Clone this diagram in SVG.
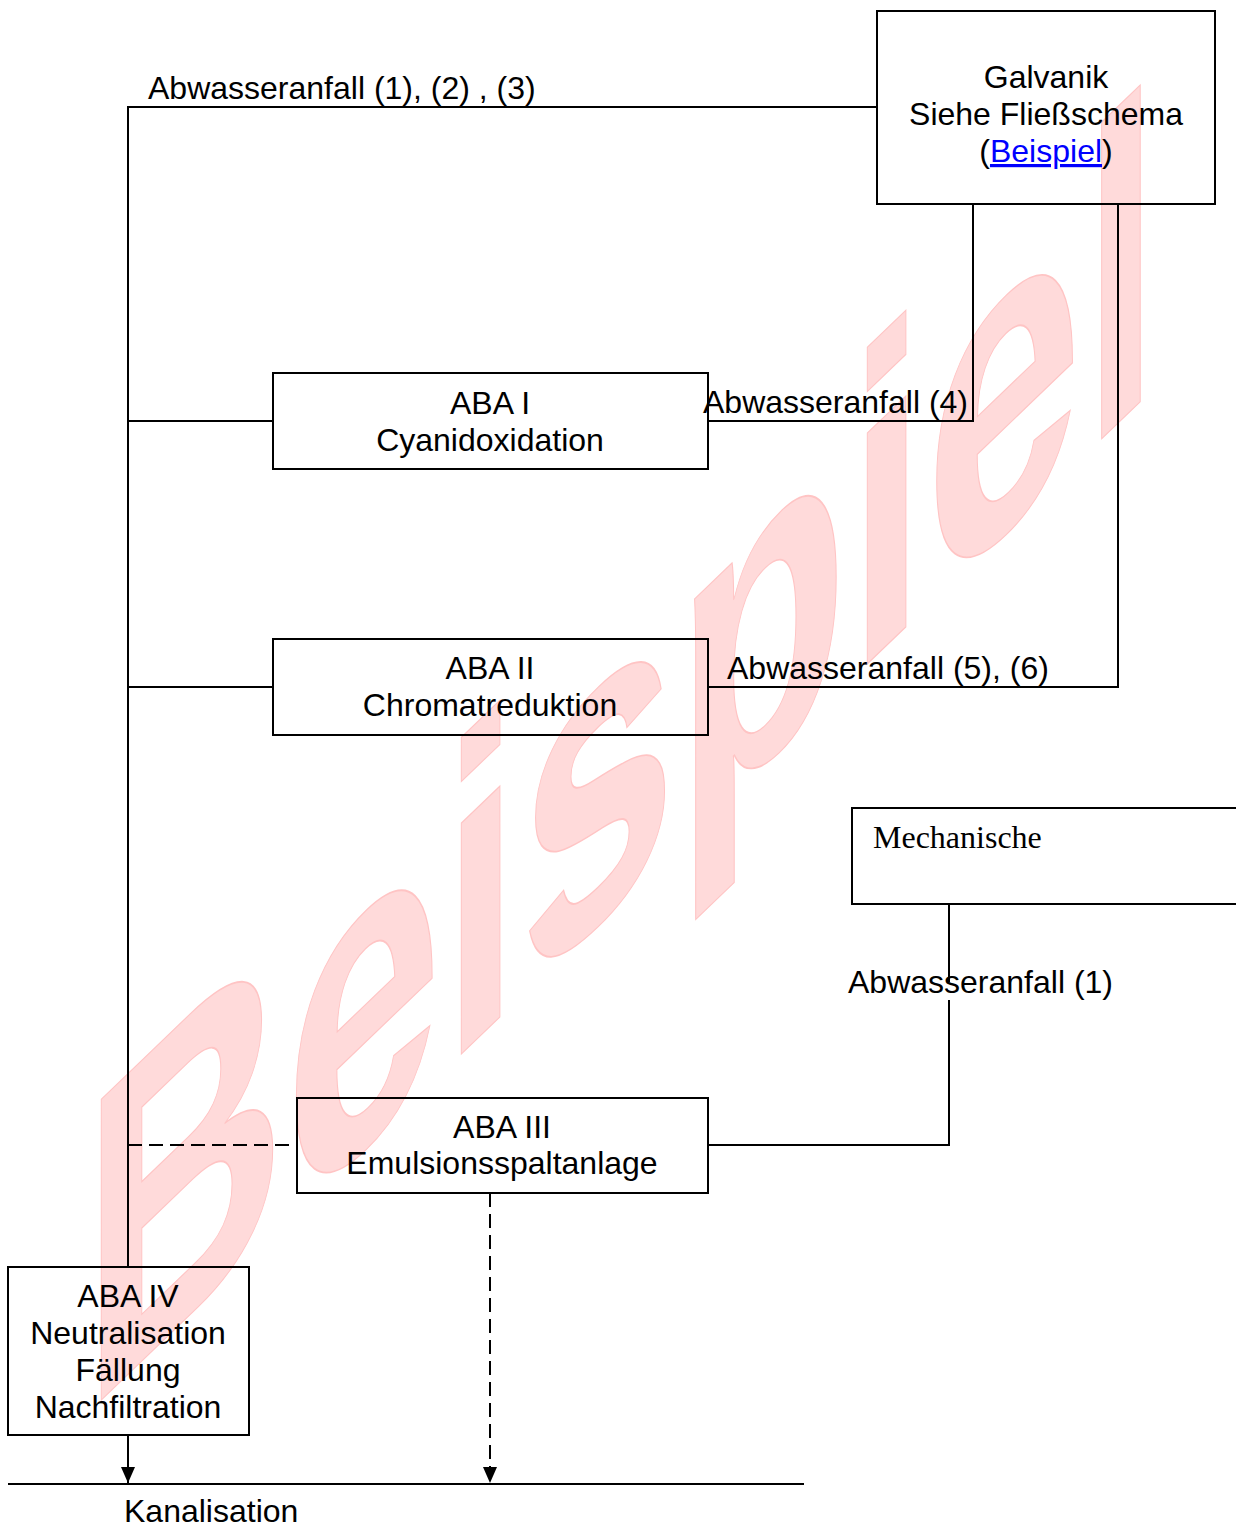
<svg xmlns="http://www.w3.org/2000/svg" width="1236" height="1526" viewBox="0 0 1236 1526">
<defs>
<style>
.t{font-family:"Liberation Sans",Arial,sans-serif;font-size:32px;fill:#000}
.c{text-anchor:middle}
.box{fill:none;stroke:#000;stroke-width:2}
.ln{fill:none;stroke:#000;stroke-width:2}
.dash{stroke-dasharray:14 7}
.wm{font-family:"Liberation Sans",Arial,sans-serif;font-weight:bold;font-size:100px;fill:#ffdada;stroke:#ffc4c4;stroke-width:1.5}
</style>
<marker id="arr" viewBox="0 0 16 14" refX="16" refY="7" markerWidth="16" markerHeight="14" markerUnits="userSpaceOnUse" orient="auto">
<path d="M0,0 L16,7 L0,14 Z" fill="#000"/>
</marker>
</defs>
<rect width="1236" height="1526" fill="#fff"/>
<text class="wm" transform="matrix(2.81 -2.70 0 4.37 82.5 1418)" vector-effect="non-scaling-stroke">Beispiel</text>

<g id="connectors">
<path class="ln" d="M877,107 H128 V1267"/>
<path class="ln" d="M128,421 H273"/>
<path class="ln" d="M128,687 H273"/>
<path class="ln dash" d="M128,1145 H297"/>
<path class="ln" d="M973,204 V421 H708"/>
<path class="ln" d="M1118,204 V687 H708"/>
<path class="ln" d="M949,904 V982"/>
<path class="ln" d="M949,1000 V1145 H708"/>
<path class="ln" d="M128,1435 V1483" marker-end="url(#arr)"/>
<path class="ln dash" d="M490,1193 V1483" marker-end="url(#arr)"/>
<path class="ln" d="M8,1484 H804"/>
<text class="t" x="148" y="99">Abwasseranfall (1), (2) , (3)</text>
<text class="t" x="703" y="413">Abwasseranfall (4)</text>
<text class="t" x="727" y="679">Abwasseranfall (5), (6)</text>
<text class="t" x="848" y="993">Abwasseranfall (1)</text>
</g>

<g id="galvanik">
<rect class="box" x="877" y="11" width="338" height="193"/>
<text class="t c" x="1046" y="88">Galvanik</text>
<text class="t c" x="1046" y="125">Siehe Fließschema</text>
<text class="t c" x="1046" y="162">(<tspan fill="#0000ff" text-decoration="underline">Beispiel</tspan>)</text>
</g>

<g id="aba1">
<rect class="box" x="273" y="373" width="435" height="96"/>
<text class="t c" x="490" y="414">ABA I</text>
<text class="t c" x="490" y="451">Cyanidoxidation</text>
</g>

<g id="aba2">
<rect class="box" x="273" y="639" width="435" height="96"/>
<text class="t c" x="490" y="679">ABA II</text>
<text class="t c" x="490" y="716">Chromatreduktion</text>
</g>

<g id="mechanische">
<rect class="box" x="852" y="808" width="400" height="96"/>
<text x="873" y="848" style="font-family:'Liberation Serif','Times New Roman',serif;font-size:32px;fill:#000">Mechanische</text>
</g>

<g id="aba3">
<rect class="box" x="297" y="1098" width="411" height="95"/>
<text class="t c" x="502" y="1138">ABA III</text>
<text class="t c" x="502" y="1174">Emulsionsspaltanlage</text>
</g>

<g id="aba4">
<rect class="box" x="8" y="1267" width="241" height="168"/>
<text class="t c" x="128" y="1307">ABA IV</text>
<text class="t c" x="128" y="1344">Neutralisation</text>
<text class="t c" x="128" y="1381">Fällung</text>
<text class="t c" x="128" y="1418">Nachfiltration</text>
</g>

<g id="kanalisation">
<text class="t" x="124" y="1522">Kanalisation</text>
</g>
</svg>
